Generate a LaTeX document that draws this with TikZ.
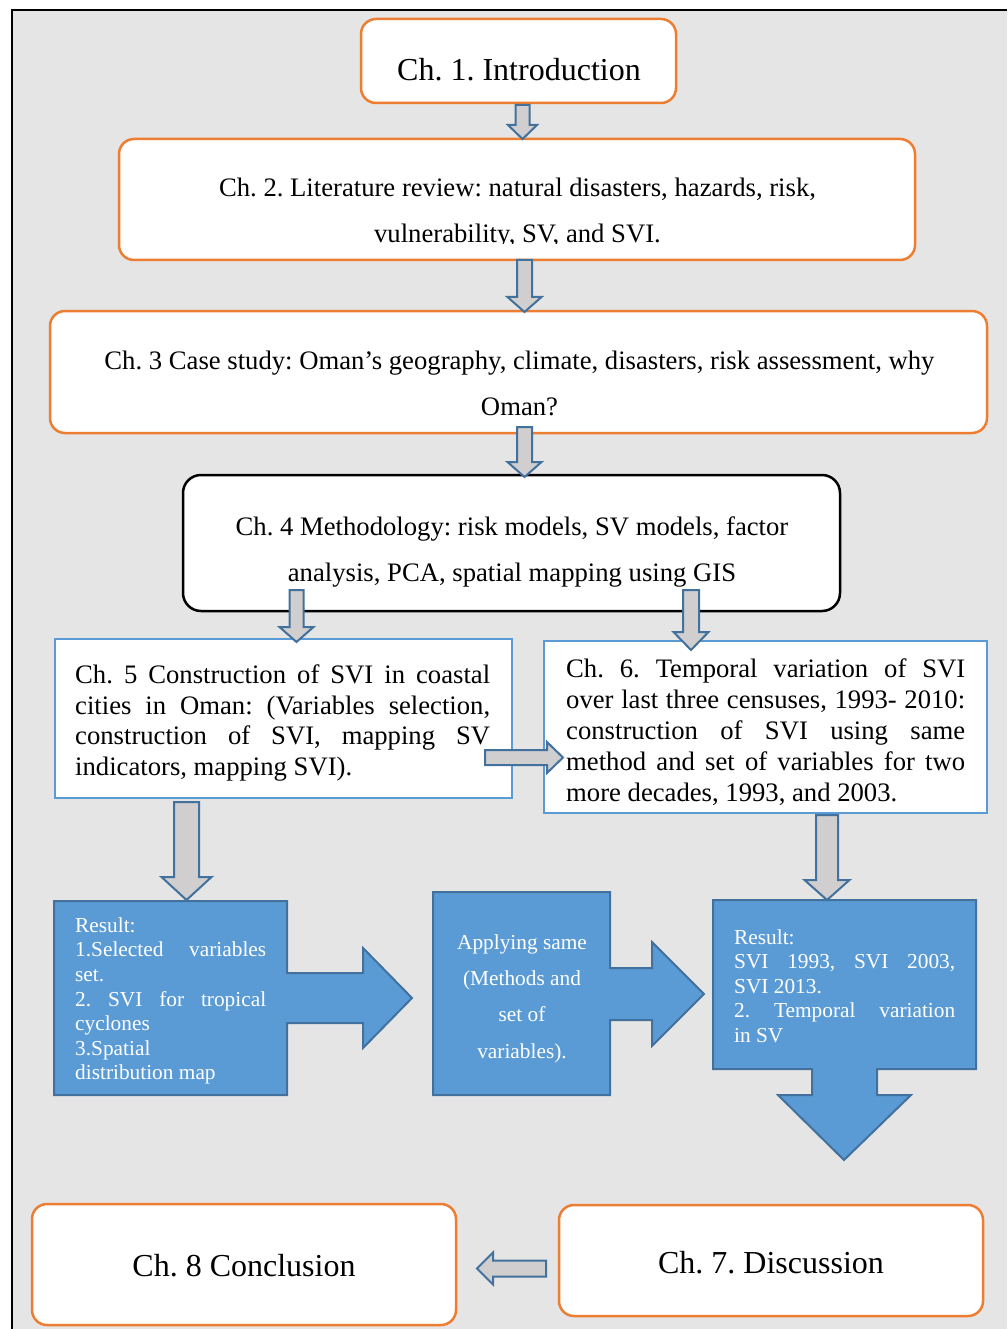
\documentclass[tikz,border=0pt]{standalone}
\usepackage{fontspec}
\setmainfont{Liberation Serif}
\frenchspacing
\definecolor{orangeC}{HTML}{ED7D31}
\definecolor{lblue}{HTML}{5B9BD5}
\definecolor{dblue}{HTML}{41719C}
\definecolor{bggray}{HTML}{E5E5E5}
\definecolor{agray}{HTML}{D0CECE}
\newcommand\myfs[2]{\fontsize{#1}{#2}\selectfont\frenchspacing}
% block arrow down: x, ytop, ytip, half shaft, half head, head length
\newcommand\gdown[6]{\draw[garrow] ({#1-#4},#2) -- ({#1+#4},#2) -- ({#1+#4},{#3-#6}) -- ({#1+#5},{#3-#6}) -- (#1,#3) -- ({#1-#5},{#3-#6}) -- ({#1-#4},{#3-#6}) -- cycle;}
% block arrow horizontal: y, xstart, xtip, half shaft, half head, head length (signed)
\newcommand\ghor[6]{\draw[garrow] (#2,{#1-#4}) -- ({#3-#6},{#1-#4}) -- ({#3-#6},{#1-#5}) -- (#3,#1) -- ({#3-#6},{#1+#5}) -- ({#3-#6},{#1+#4}) -- (#2,{#1+#4}) -- cycle;}
\begin{document}
\begin{tikzpicture}[x=1pt,y=-1pt,
  obox/.style={draw=orangeC, line width=2.5pt, fill=white, rounded corners=15pt, inner sep=0pt},
  kbox/.style={draw=black, line width=2.5pt, fill=white, rounded corners=18pt, inner sep=0pt},
  bbox/.style={draw=lblue, line width=2pt, fill=white, inner sep=0pt},
  garrow/.style={draw=dblue, line width=2pt, fill=agray},
  bshape/.style={draw=dblue, line width=2pt, fill=lblue},
  big/.style={font=\myfs{32}{38}, inner sep=0pt},
  mid/.style={font=\myfs{26.67}{46}, inner sep=0pt, align=center},
  jtxt/.style={font=\myfs{26.67}{30.5}, inner sep=0pt, align=left, anchor=west},
  wtxt/.style={font=\myfs{21.33}{24.6}, inner sep=0pt, align=left, anchor=west, text=white},
]
\useasboundingbox (0,0) rectangle (1007,1329);
\fill[white] (0,0) rectangle (1007,1329);
\fill[bggray] (12,10) rectangle (1007,1329);
\draw[line width=2pt] (12,1329) -- (12,10) -- (1007,10);

% boxes
\node[obox, minimum width=315pt, minimum height=84pt] (c1) at (518.5,61) {};
\node[obox, minimum width=796pt, minimum height=121pt] (c2) at (517,199.5) {};
\node[obox, minimum width=937pt, minimum height=122pt] (c3) at (518.5,372) {};
\node[kbox, minimum width=657pt, minimum height=136pt] (c4) at (511.5,543) {};
\node[bbox, minimum width=457pt, minimum height=159pt] (c5) at (283.5,718.5) {};
\node[bbox, minimum width=443pt, minimum height=172pt] (c6) at (765.5,727) {};
\node[obox, minimum width=424pt, minimum height=121pt] (c8) at (244,1264.5) {};
\node[obox, minimum width=424pt, minimum height=111pt] (c7) at (771,1260.5) {};

% texts
\node[big] (t1) at (519,70) {Ch. 1. Introduction};
\begin{scope}
\clip (100,139) rectangle (930,243.5);
\node[mid] (t2) at (517.5,213) {Ch. 2. Literature review: natural disasters, hazards, risk,\\vulnerability, SV, and SVI.};
\end{scope}
\node[mid] (t3) at (519.5,383.5) {Ch. 3 Case study: Oman’s geography, climate, disasters, risk assessment, why\\Oman?};
\node[mid] (t4) at (512,552) {Ch. 4 Methodology: risk models, SV models, factor\\analysis, PCA, spatial mapping using GIS};
\node[jtxt] (t5) at (75,723) {\makebox[415pt][s]{Ch. 5 Construction of SVI in coastal}\\\makebox[415pt][s]{cities in Oman: (Variables selection,}\\\makebox[415pt][s]{construction of SVI, mapping SV}\\indicators, mapping SVI).};
\node[jtxt, font=\myfs{26.67}{31}] (t6) at (566,732) {\makebox[399pt][s]{Ch. 6. Temporal variation of SVI}\\\makebox[399pt][s]{over last three censuses, 1993- 2010:}\\\makebox[399pt][s]{construction of SVI using same}\\\makebox[399pt][s]{method and set of variables for two}\\more decades, 1993, and 2003.};
\node[big] (t8) at (244,1266) {Ch. 8 Conclusion};
\node[big] (t7) at (771,1263) {Ch. 7. Discussion};

% blue shapes
\draw[bshape] (54,901) -- (287,901) -- (287,973) -- (363,973) -- (363,948) -- (412,998) -- (363,1048) -- (363,1023) -- (287,1023) -- (287,1095) -- (54,1095) -- cycle;
\draw[bshape] (433,892) -- (610,892) -- (610,968) -- (652,968) -- (652,942) -- (704,994) -- (652,1046) -- (652,1020) -- (610,1020) -- (610,1095) -- (433,1095) -- cycle;
\draw[bshape] (713,900) -- (976,900) -- (976,1069) -- (877,1069) -- (877,1095) -- (911,1095) -- (844,1160) -- (778,1095) -- (812,1095) -- (812,1069) -- (713,1069) -- cycle;

\node[wtxt] (r1) at (75,1001) {Result:\\\makebox[191pt][s]{1.Selected variables}\\set.\\\makebox[191pt][s]{2. SVI for tropical}\\cyclones\\3.Spatial\\distribution map};
\node[wtxt, align=center, anchor=center, font=\myfs{21.33}{36.3}] (r2) at (522,998.5) {Applying same\\(Methods and\\set of\\variables).};
\node[wtxt] (r3) at (734,986) {Result:\\\makebox[221pt][s]{SVI 1993, SVI 2003,}\\SVI 2013.\\\makebox[221pt][s]{2. Temporal variation}\\in SV};

% gray block arrows
\gdown{522.5}{105}{139}{7}{14.5}{14}
\gdown{524.5}{260}{312}{7.5}{17}{15}
\gdown{524.5}{427}{477}{7.5}{17}{15}
\gdown{296.5}{590}{642}{7}{17}{15}
\gdown{691}{590}{650}{8}{17.5}{18}
\ghor{757.5}{485}{563}{7.5}{15.5}{16}
\gdown{186.5}{802}{900}{12.5}{25}{23}
\gdown{827}{815}{900}{11}{22.5}{20}
\ghor{1268.5}{546}{477}{8}{16}{-16}
\end{tikzpicture}
\end{document}
